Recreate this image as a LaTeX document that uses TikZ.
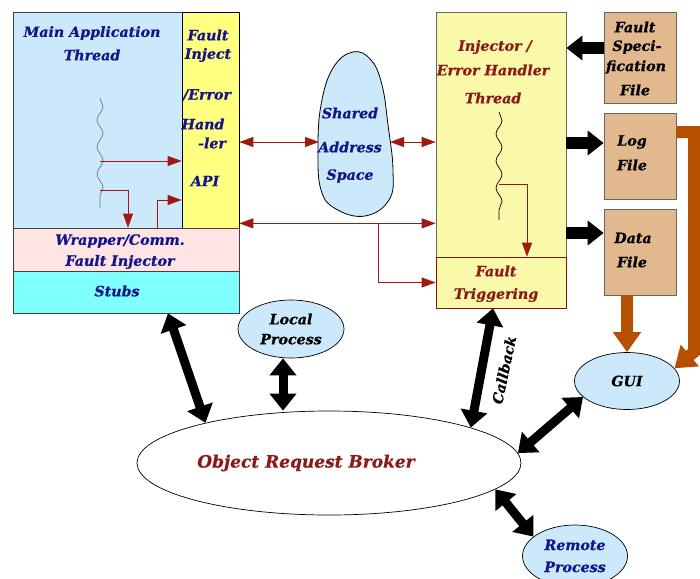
\documentclass[tikz,border=0pt]{standalone}
\usepackage{fontspec}
\setmainfont{DejaVu Serif}[BoldItalicFeatures={FakeBold=0.6}]
\usetikzlibrary{arrows.meta,shapes.geometric,decorations.pathmorphing,calc}
\definecolor{lblue}{HTML}{CCE9FB}
\definecolor{apiyel}{HTML}{FFFF80}
\definecolor{pinkb}{HTML}{FFE4E4}
\definecolor{cyanb}{HTML}{80FFFF}
\definecolor{injyel}{HTML}{FAF9A9}
\definecolor{tanb}{HTML}{E2B98F}
\definecolor{brownar}{HTML}{B45000}
\definecolor{redar}{HTML}{A01810}
\definecolor{tblue}{HTML}{14148C}
\definecolor{tred}{HTML}{8B1A1A}
\tikzset{
  rT/.tip={Triangle[length=14pt,width=10pt]},
  bT/.tip={Triangle[length=17pt,width=26pt]},
  fT/.tip={Triangle[length=16pt,width=24pt]},
  oT/.tip={Triangle[length=20pt,width=27pt]},
  box/.style={rectangle, draw=black!75, line width=0.7pt, inner sep=0pt},
  ell/.style={ellipse, draw=black, line width=0.7pt, inner sep=0pt, align=center},
  tb/.style={text=tblue, inner sep=0pt},
  tr/.style={text=tred, inner sep=0pt},
  tk/.style={text=black, inner sep=0pt},
  rarr/.style={draw=redar, line width=0.8pt, -rT},
  rdbl/.style={draw=redar, line width=0.8pt, rT-rT},
  barr/.style={draw=black, line width=9pt, bT-bT},
  farr/.style={draw=black, line width=12pt, -fT},
  oarr/.style={draw=brownar, line width=12pt, -oT, line join=miter},
  wig/.style={decorate, decoration={snake, segment length=27pt, amplitude=3pt}, line width=0.7pt}
}
\begin{document}
\begin{tikzpicture}[x=1pt,y=-1pt, font=\fontsize{14.2}{20}\selectfont\bfseries\itshape]
\useasboundingbox (0,0) rectangle (700,578);
% left block
\node[box, fill=lblue, minimum width=169pt, minimum height=216pt] (main) at (97.5,120) {};
\node[box, fill=apiyel, draw=black, minimum width=57pt, minimum height=216pt] (api) at (210.5,120) {};
\node[box, fill=pinkb, minimum width=226pt, minimum height=43pt] (wrapper) at (126,249.5) {};
\node[box, fill=cyanb, minimum width=226pt, minimum height=42pt] (stubs) at (126,292) {};
\node[tb] at (92,33) {Main Application};
\node[tb] at (92,55) {Thread};
\node[tb] at (208,35) {Fault};
\node[tb] at (208,55) {Inject};
\node[tb] at (207,95) {/Error};
\node[tb] at (203,124) {Hand};
\node[tb] at (212,143) {-ler};
\node[tb] at (205,181) {API};
\node[tb] at (120,241) {Wrapper/Comm.};
\node[tb] at (120,262) {Fault Injector};
\node[tb] at (117,291) {Stubs};
\draw[wig, black!55] (100,98) -- (100,208);
\draw[rarr] (100,161) -- (api.west |- 0,161);
\draw[rarr] (100,190) -| (wrapper.north -| 128,0);
\draw[rarr] (wrapper.north -| 157,0) |- (api.west |- 0,200);
% shared address space
\draw[fill=lblue, line width=0.8pt] plot[smooth cycle, tension=0.7] coordinates
  {(353,52) (371,60) (382,85) (388,125) (393,170) (389,200) (365,216) (336,209) (321,190) (318,150) (321,105) (333,68)};
\coordinate (blobL) at (319,142);
\coordinate (blobR) at (390,142);
\node[tb] (shared) at (350,113) {Shared};
\node[tb] at (350,147) {Address};
\node[tb] at (350,176) {Space};
% injector
\node[box, fill=injyel, draw=black!60, minimum width=130pt, minimum height=245pt] (injector) at (501,134.5) {};
\node[box, fill=injyel, draw=redar!80!black, minimum width=130pt, minimum height=51pt] (trigger) at (501,282.5) {};
\node[tr] at (495,47) {Injector /};
\node[tr] at (493,70) {Error Handler};
\node[tr] at (493,98) {Thread};
\node[tr] at (496,271) {Fault};
\node[tr] at (496,295) {Triggering};
\draw[wig, black] (499,112) -- (499,220);
\draw[rarr] (499,184) -| (trigger.north -| 527,0);
% red connectors
\draw[rdbl] (api.east |- blobL) -- (blobL);
\draw[rdbl] (blobR) -- (injector.west |- blobR);
\coordinate (busL) at ([yshift=5pt]api.south east);
\draw[rdbl] (busL) -- (injector.west |- busL);
\draw[rarr] (busL -| 378,0) |- (trigger.west);
% files
\node[box, fill=tanb, draw=black!60, minimum width=72pt, minimum height=91pt] (spec) at (640,57.5) {};
\node[box, fill=tanb, draw=black!60, minimum width=72pt, minimum height=86pt] (log) at (640,156) {};
\node[box, fill=tanb, draw=black!60, minimum width=72pt, minimum height=86pt] (data) at (640,252) {};
\node[tk] at (635,27) {Fault};
\node[tk] at (637,47) {Speci-};
\node[tk] at (636,67) {fication};
\node[tk] at (635,90) {File};
\node[tk] at (632,142) {Log};
\node[tk] at (632,165) {File};
\node[tk] at (633,238) {Data};
\node[tk] at (632,262) {File};
\draw[farr] (spec.west |- 0,48) -- (injector.east |- 0,48);
\draw[farr] (injector.east |- 0,143) -- (log.west |- 0,143);
\draw[farr] (injector.east |- 0,233) -- (data.west |- 0,233);
% ellipses
\node[ell, fill=white, minimum width=384pt, minimum height=104pt, text=tred, font=\fontsize{17}{20}\selectfont\bfseries\itshape] (orb) at (329,463) {Object Request Broker\hspace*{46pt}};
\node[ell, fill=lblue, minimum width=106pt, minimum height=58pt] (local) at (291,329) {Local\\Process};
\node[ell, fill=lblue, minimum width=105pt, minimum height=57pt] (gui) at (627,381) {GUI};
\node[ell, fill=lblue, minimum width=105pt, minimum height=62pt, text=tblue, font=\fontsize{14.2}{22}\selectfont\bfseries\itshape] (remote) at (575,556) {Remote\\Process};
% brown arrows
\draw[oarr] (log.east |- 0,132) -- (694,132) -- (694,352) -- (gui.15);
\draw[oarr] (gui.north |- data.south) -- (gui.north);
% black double arrows
\coordinate (lt) at ($(local.south)+(-8,0)$);
\coordinate (st) at ($(stubs.south)+(42,0)$);
\coordinate (tt) at ($(trigger.south)+(-8,0)$);
\draw[barr] (st) -- (orb.162);
\draw[barr] (lt) -- (lt |- orb.north);
\draw[barr] (tt) -- (orb.14.5);
\draw[barr] (gui.200) -- (orb.3);
\draw[barr] (orb.-9) -- (remote.155);
\node[tk, rotate=78] (callback) at (504,370) {Callback};
\end{tikzpicture}
\end{document}
